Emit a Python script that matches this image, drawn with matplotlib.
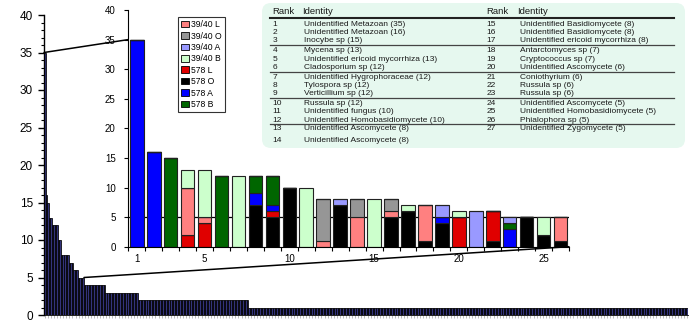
import numpy as np
import matplotlib
matplotlib.use("Agg")
import matplotlib.pyplot as plt
from matplotlib.patches import FancyBboxPatch, Patch, ConnectionPatch

plt.rcParams['font.family'] = ['Liberation Sans', 'DejaVu Sans']

# ---------------- data ----------------
ranks = list(range(1, 27))
series_names = ["578 O", "578 L", "578 A", "578 B", "39/40 L", "39/40 O", "39/40 A", "39/40 B"]
series_colors = {"578 O": "#000000", "578 L": "#e00000", "578 A": "#0000ff", "578 B": "#006600",
                 "39/40 L": "#ff8080", "39/40 O": "#969696", "39/40 A": "#9999ff", "39/40 B": "#ccffcc"}
s578_O  = [0, 0, 0, 0, 0, 0, 0, 7, 5, 10, 0, 0, 7, 0, 0, 5, 6, 1, 4, 0, 0, 1, 0, 5, 2, 1]
s578_L  = [0, 0, 0, 2, 4, 0, 0, 0, 1, 0, 0, 0, 0, 0, 0, 0, 0, 0, 0, 5, 0, 5, 0, 0, 0, 0]
s578_A  = [35, 16, 0, 0, 0, 0, 0, 2, 1, 0, 0, 0, 0, 0, 0, 0, 0, 0, 1, 0, 0, 0, 3, 0, 0, 0]
s578_B  = [0, 0, 15, 0, 0, 12, 0, 3, 5, 0, 0, 0, 0, 0, 0, 0, 0, 0, 0, 0, 0, 0, 1, 0, 0, 0]
s3940_L = [0, 0, 0, 8, 1, 0, 0, 0, 0, 0, 0, 1, 0, 5, 0, 1, 0, 6, 0, 0, 0, 0, 0, 0, 0, 4]
s3940_O = [0, 0, 0, 0, 0, 0, 0, 0, 0, 0, 0, 7, 0, 3, 0, 2, 0, 0, 0, 0, 0, 0, 0, 0, 0, 0]
s3940_A = [0, 0, 0, 0, 0, 0, 0, 0, 0, 0, 0, 0, 1, 0, 0, 0, 0, 0, 2, 0, 6, 0, 1, 0, 0, 0]
s3940_B = [0, 0, 0, 3, 8, 0, 12, 0, 0, 0, 10, 0, 0, 0, 8, 0, 1, 0, 0, 1, 0, 0, 0, 0, 3, 0]
series_values = [s578_O, s578_L, s578_A, s578_B, s3940_L, s3940_O, s3940_A, s3940_B]
legend_order = ["39/40 L", "39/40 O", "39/40 A", "39/40 B", "578 L", "578 O", "578 A", "578 B"]

# rank-abundance tail of the main plot (abundance level, number of OTUs at that level)
tail_levels = [4, 3, 2, 1]
tail_counts = [14, 21, 72, 286]

table_left = [("1", "Unidentified Metazoan (35)"), ("2", "Unidentified Metazoan (16)"),
              ("3", "Inocybe sp (15)"), ("4", "Mycena sp (13)"),
              ("5", "Unidentified ericoid mycorrhiza (13)"), ("6", "Cladosporium sp (12)"),
              ("7", "Unidentified Hygrophoraceae (12)"), ("8", "Tylospora sp (12)"),
              ("9", "Verticillium sp (12)"), ("10", "Russula sp (12)"),
              ("11", "Unidentified fungus (10)"), ("12", "Unidentified Homobasidiomycete (10)"),
              ("13", "Unidentified Ascomycete (8)"), ("14", "Unidentified Ascomycete (8)")]
table_right = [("15", "Unidentified Basidiomycete (8)"), ("16", "Unidentified Basidiomycete (8)"),
               ("17", "Unidentified ericoid mycorrhiza (8)"), ("18", "Antarctomyces sp (7)"),
               ("19", "Cryptococcus sp (7)"), ("20", "Unidentified Ascomycete (6)"),
               ("21", "Coniothyrium (6)"), ("22", "Russula sp (6)"), ("23", "Russula sp (6)"),
               ("24", "Unidentified Ascomycete (5)"), ("25", "Unidentified Homobasidiomycete (5)"),
               ("26", "Phialophora sp (5)"), ("27", "Unidentified Zygomycete (5)")]

# ---------------- figure ----------------
W, H = 690, 322
fig = plt.figure(figsize=(W / 100, H / 100), dpi=100)

def fr(x0, y0, x1, y1):
    return [x0 / W, 1 - y1 / H, (x1 - x0) / W, (y1 - y0) / H]

# main rank-abundance plot
inset_totals = np.sum(np.array(series_values), axis=0)
main_values = np.concatenate([inset_totals, np.repeat(tail_levels, tail_counts)])
N = len(main_values)
ax = fig.add_axes(fr(44, 15, 688, 315))
xpos = np.arange(1, N + 1)
ax.bar(xpos, main_values, width=1.0, color="#33337a", edgecolor="black", linewidth=0.55)
ax.set_xlim(0.5, N + 0.5)
ax.set_ylim(0, 40)
ax.set_yticks(range(0, 41, 5))
ax.set_yticks(range(0, 41, 1), minor=True)
ax.set_xticks(np.arange(1, N + 1, 2))
ax.set_xticklabels([])
ax.tick_params(axis='x', length=2, width=0.4, color="#888888")
ax.tick_params(axis='y', which='major', length=4, width=1, labelsize=8.5, pad=4)
ax.tick_params(axis='y', which='minor', length=2, width=0.8)
for s in ("top", "right"):
    ax.spines[s].set_visible(False)
ax.spines["left"].set_linewidth(1)
ax.spines["bottom"].set_linewidth(0.6)

# inset stacked bars
axin = fig.add_axes(fr(128.3, 10, 569, 246.7))
axin.set_facecolor("none")
axin.axhline(5, color="black", linewidth=0.9, zorder=0.5)
bottom = np.zeros(len(ranks))
for name, vals in zip(series_names, series_values):
    v = np.array(vals, dtype=float)
    axin.bar(ranks, v, bottom=bottom, width=0.8, color=series_colors[name],
             edgecolor="#222222", linewidth=0.8, zorder=2)
    bottom += v
axin.set_xlim(0.5, 26.5)
axin.set_ylim(0, 40)
axin.set_yticks(range(0, 41, 5))
axin.set_xticks(np.arange(0.5, 27, 1))
axin.set_xticklabels([])
axin.set_xticks([1, 5, 10, 15, 20, 25], ["1", "5", "10", "15", "20", "25"], minor=True)
axin.tick_params(axis='x', which='major', length=3, width=0.8)
axin.tick_params(axis='x', which='minor', length=0, labelsize=7, pad=5)
axin.tick_params(axis='y', length=3, width=0.8, labelsize=7, pad=6)
for s in ("top", "right"):
    axin.spines[s].set_visible(False)

handles = [Patch(facecolor=series_colors[n], edgecolor="black", linewidth=0.6, label=n)
           for n in legend_order]
leg = axin.legend(handles=handles, loc="upper left", bbox_to_anchor=(0.113, 0.97),
                  borderaxespad=0, fontsize=6.2, frameon=True, fancybox=False,
                  handlelength=0.9, handleheight=0.8, handletextpad=0.3,
                  labelspacing=0.28, borderpad=0.35)
leg.get_frame().set_edgecolor("black")
leg.get_frame().set_linewidth(0.8)

# connectors
for (xa, ya), (xb, yb) in [((0.5, 35), (0.5, 35)), ((26.5, 5), (26.5, 0))]:
    con = ConnectionPatch(xyA=(xa, ya), coordsA=ax.transData, xyB=(xb, yb),
                          coordsB=axin.transData, color="black", linewidth=1.1)
    fig.add_artist(con)

# table overlay in pixel coordinates
ov = fig.add_axes([0, 0, 1, 1])
ov.set_xlim(0, W)
ov.set_ylim(H, 0)
ov.axis("off")
ov.add_patch(FancyBboxPatch((262, 3), 423, 145, boxstyle="round,pad=0,rounding_size=9",
                            facecolor="#e6f8ef", edgecolor="none"))
tfs = 6.0
tc = "#1a1a1a"
for xr, xi in [(272.5, 302), (486.5, 517)]:
    ov.text(xr, 11.5, "Rank", fontsize=6.8, color=tc, va="center")
    ov.text(xi, 11.5, "Identity", fontsize=6.8, color=tc, va="center")
ov.plot([270, 674], [17.5, 17.5], color="#222222", linewidth=1.5)
row_y = [24, 32.5, 40.7, 50.7, 59, 67.5, 77.3, 85.7, 93.6, 103.3, 111.8, 120, 128.5, 140]
for (r, t), y in zip(table_left, row_y):
    ov.text(272.5, y, r, fontsize=tfs, color=tc, va="center")
    ov.text(304.5, y, t, fontsize=tfs, color=tc, va="center")
for (r, t), y in zip(table_right, row_y):
    ov.text(486.5, y, r, fontsize=tfs, color=tc, va="center")
    ov.text(519.5, y, t, fontsize=tfs, color=tc, va="center")
for y in [44.5, 72, 97.5, 124.3]:
    ov.plot([270, 674], [y, y], color="#444444", linewidth=0.9)

fig.savefig("out.png", dpi=100)
